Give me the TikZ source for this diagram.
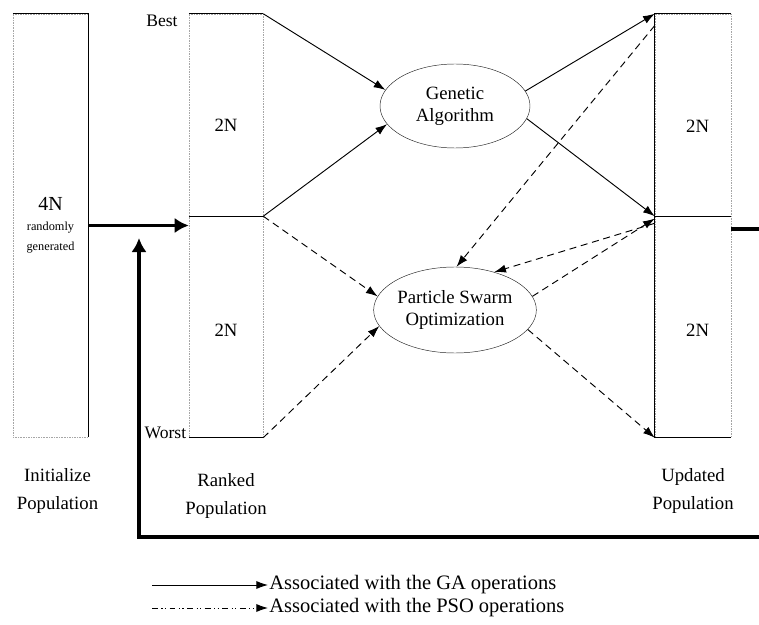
\documentclass[tikz,border=0pt]{standalone}
\usepackage{fontspec}
\setmainfont{Liberation Serif}
\usetikzlibrary{shapes.geometric,arrows.meta,positioning,calc}
\tikzstyle{pop} = [draw=black!35, densely dotted, minimum width=2.25cm, inner sep=0pt, font=\fontsize{16}{19}\selectfont]
\tikzstyle{edge} = [draw, line width=0.8pt]
\tikzstyle{algo} = [ellipse, draw=black!85, thin, align=center, inner sep=0pt, font=\fontsize{16}{19}\selectfont]
\tikzstyle{gaflow} = [draw, line width=0.8pt, -{Latex[length=10pt,width=7pt]}]
\tikzstyle{psoflow} = [gaflow, dash pattern=on 6pt off 4pt]
\tikzstyle{psolegend} = [gaflow, dash pattern=on 5pt off 3pt on 1pt off 2pt on 1pt off 3pt]
\tikzstyle{mainflow} = [draw, line width=2.8pt, -{Latex[length=12pt,width=13pt]}]
\tikzstyle{lbl} = [align=center, font=\fontsize{16}{24}\selectfont]
\tikzset{every label/.style={font=\fontsize{16}{19}\selectfont}}

\begin{document}
\begin{tikzpicture}[x=0.03cm, y=-0.03cm]
    \useasboundingbox (0,0) rectangle (759,625);

    % populations
    \node [pop, minimum height=12.69cm, align=center] (init) at (50.5,225.5)
      {{\fontsize{17}{19}\selectfont 4N}\\[-2pt]{\fontsize{10.5}{13}\selectfont randomly}\\[-2pt]{\fontsize{10.5}{13}\selectfont generated}};
    \node [pop, minimum width=2.22cm, minimum height=6.06cm, label={[yshift=-9pt]center:2N}] (ranktop) at (226,115) {};
    \node [pop, minimum width=2.22cm, minimum height=6.63cm, below=0pt of ranktop, label={[yshift=-3pt]center:2N}] (rankbot) {};
    \node [pop, minimum width=2.28cm, minimum height=6.06cm, label={[xshift=4pt,yshift=-10pt]center:2N}] (updtop) at (693,115) {};
    \node [pop, minimum width=2.28cm, minimum height=6.63cm, below=0pt of updtop, label={[xshift=4pt,yshift=-3pt]center:2N}] (updbot) {};

    \draw [edge] (init.north west) -- (init.north east) -- (init.south east);
    \draw [edge] (ranktop.north west) -- (ranktop.north east);
    \draw [edge] (ranktop.south west) -- (ranktop.south east);
    \draw [edge] (rankbot.south west) -- (rankbot.south east);
    \draw [edge] (updtop.north east) -- (updtop.north west) -- (updbot.south west) -- (updbot.south east);
    \draw [edge] (updtop.south west) -- (updtop.south east);

    \node [anchor=east, font=\fontsize{15}{18}\selectfont] (best) at ([xshift=-6pt,yshift=-6pt]ranktop.north west) {Best};
    \node [anchor=east, font=\fontsize{15}{18}\selectfont, inner sep=2pt] (worst) at ([yshift=4pt]rankbot.south west) {Worst};

    \node [lbl, below=0.8cm of init, xshift=6pt] (initlbl) {Initialize\\Population};
    \node [lbl, below=0.95cm of rankbot] (ranklbl) {Ranked\\Population};
    \node [lbl, below=0.8cm of updbot] (updlbl) {Updated\\Population};

    % operators
    \node [algo, minimum width=4.5cm, minimum height=2.52cm] (ga) at (455,106) {Genetic\\Algorithm};
    \node [algo, minimum width=4.68cm, minimum height=2.58cm] (pso) at (455,310) {Particle Swarm\\Optimization};

    \draw [gaflow] (ranktop.north east) -- (ga.167);
    \draw [gaflow] (ranktop.south east) -- (ga.195);
    \draw [gaflow] (ga.12) -- (updtop.north west);
    \draw [gaflow] (ga.350) -- (updtop.south west);

    \draw [psoflow] (ranktop.south east) -- (pso.170);
    \draw [psoflow] (rankbot.south east) -- (pso.192);
    \draw [psoflow] ([yshift=-10pt]updtop.north west) -- (pso.88);
    \draw [psoflow] ([yshift=-6pt]updbot.north west) -- (pso.44);
    \draw [psoflow] (pso.10) -- ([yshift=-2pt]updbot.north west);
    \draw [psoflow] (pso.345) -- (updbot.south west);

    % main flow and loop back
    \draw [mainflow] (init.east) -- (init.east -| rankbot.west);
    \coordinate (loopout) at ([yshift=-11pt]updbot.north east);
    \coordinate (loopbot) at (139,537);
    \coordinate (loopend) at (139,238);
    \draw [mainflow] (loopout) -- ++(60,0) |- (loopbot) -- (loopend);

    % legend
    \node [anchor=west, inner sep=1pt, font=\fontsize{17.5}{20}\selectfont] (galeg) at (268,585) {Associated with the GA operations};
    \node [anchor=west, inner sep=1pt, font=\fontsize{17.5}{20}\selectfont] (psoleg) at (268,608) {Associated with the PSO operations};
    \coordinate (galegstart) at (152,585);
    \coordinate (psolegstart) at (152,608);
    \draw [gaflow] (galegstart) -- (galeg.west);
    \draw [psolegend] (psolegstart) -- (psoleg.west);
  \end{tikzpicture}
\end{document}
